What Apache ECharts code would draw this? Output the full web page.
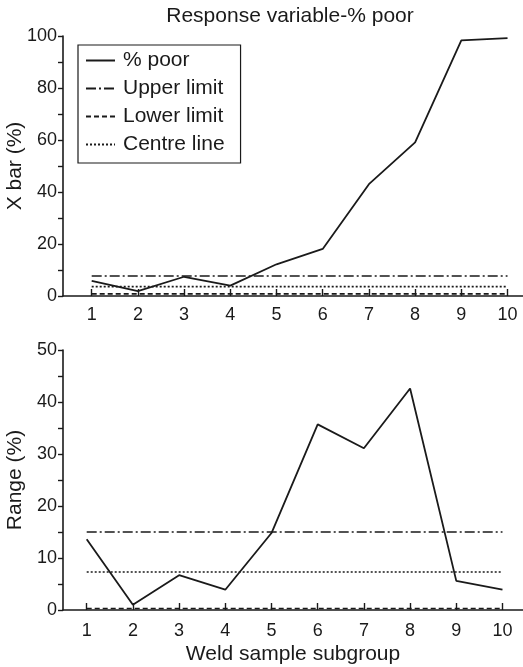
<!DOCTYPE html>
<html>
<head>
<meta charset="utf-8">
<script src="https://cdn.jsdelivr.net/npm/echarts@6/dist/echarts.min.js"></script>
<style>
html,body{margin:0;padding:0;background:#fff;}
#chart{width:523px;height:667px;}
</style>
</head>
<body>
<div id="chart"></div>
<script>
const categories = [1, 2, 3, 4, 5, 6, 7, 8, 9, 10];
const xbarValues = [5.8, 1.9, 7.4, 4.0, 12.2, 18.1, 43.0, 59.1, 98.3, 99.2];
const xbarLimits = { upper: 7.7, lower: 0.8, centre: 3.6 };
const rangeValues = [13.6, 1.0, 6.7, 3.9, 14.8, 35.7, 31.1, 42.6, 5.6, 3.9];
const rangeLimits = { upper: 15.0, lower: 0.3, centre: 7.3 };
const seriesNames = ['% poor', 'Upper limit', 'Lower limit', 'Centre line'];
const titleText = 'Response variable-% poor';
const yNameTop = 'X bar (%)';
const yNameBottom = 'Range (%)';
const xNameBottom = 'Weld sample subgroup';

const FONT = "'Liberation Sans', Arial, Helvetica, sans-serif";
const INK = '#1a1a1a';

function makeSeries(values, limits, idx) {
  const pts = categories.map((c, i) => [c, values[i]]);
  const flat = v => categories.map(c => [c, v]);
  const common = { type: 'line', xAxisIndex: idx, yAxisIndex: idx, symbol: 'none', silent: true, animation: false,
    color: INK, itemStyle: { color: INK, opacity: 0 } };
  return [
    Object.assign({}, common, { name: seriesNames[0], data: pts, z: 4,
      lineStyle: { color: INK, width: 1.8, type: 'solid' } }),
    Object.assign({}, common, { name: seriesNames[1], data: flat(limits.upper), z: 3,
      lineStyle: { color: INK, width: 1.6, type: [10, 3, 2, 3] } }),
    Object.assign({}, common, { name: seriesNames[2], data: flat(limits.lower), z: 3,
      lineStyle: { color: INK, width: 1.6, type: [5, 3] } }),
    Object.assign({}, common, { name: seriesNames[3], data: flat(limits.centre), z: 3,
      lineStyle: { color: INK, width: 1.6, type: [2, 2] } })
  ];
}

function xAxisDef(idx, min, max, margin, extra) {
  return Object.assign({
    type: 'value', gridIndex: idx, min: min, max: max,
    axisLine: { show: true, onZero: false, lineStyle: { color: INK, width: 1.6 } },
    axisTick: { show: true, inside: true, length: 7, customValues: categories, lineStyle: { color: INK, width: 1.4 } },
    axisLabel: { customValues: categories, margin: margin, color: INK, fontSize: 18, fontFamily: FONT },
    splitLine: { show: false }
  }, extra || {});
}

function yAxisDef(idx, max, interval, name, gap) {
  return {
    type: 'value', gridIndex: idx, min: 0, max: max, interval: interval,
    name: name, nameLocation: 'middle', nameGap: gap, nameRotate: 90, nameMoveOverlap: false,
    nameTextStyle: { color: INK, fontSize: 21, fontFamily: FONT },
    axisLine: { show: true, lineStyle: { color: INK, width: 1.6 } },
    axisTick: { show: true, length: 5, lineStyle: { color: INK, width: 1.4 } },
    minorTick: { show: true, splitNumber: 2, length: 5, lineStyle: { color: INK, width: 1.4 } },
    axisLabel: { margin: 6, color: INK, fontSize: 18, fontFamily: FONT },
    splitLine: { show: false }, minorSplitLine: { show: false }
  };
}

const chart = echarts.init(document.getElementById('chart'), null, { renderer: 'canvas' });
chart.setOption({
  animation: false,
  backgroundColor: '#ffffff',
  textStyle: { fontFamily: FONT },
  graphic: [{
    type: 'text', x: 290, y: 16,
    style: { text: titleText, align: 'center', verticalAlign: 'middle', font: '21px ' + FONT, fill: INK }
  }],
  legend: {
    data: seriesNames, orient: 'vertical', left: 78, top: 45,
    padding: [5, 16, 8, 7], itemGap: 7, itemWidth: 29, itemHeight: 14,
    borderColor: INK, borderWidth: 1.2, backgroundColor: '#fff',
    itemStyle: { opacity: 0 },
    textStyle: { color: INK, fontSize: 21, fontFamily: FONT, padding: [0, 0, 0, 3] },
    selectedMode: false, z: 10
  },
  grid: [
    { left: 63, right: 0, top: 36, height: 260, containLabel: false, outerBoundsMode: 'none' },
    { left: 63, right: 0, top: 350, height: 260, containLabel: false, outerBoundsMode: 'none' }
  ],
  xAxis: [
    xAxisDef(0, 0.379, 10.335, 10),
    xAxisDef(1, 0.487, 10.444, 12, {
      name: xNameBottom, nameLocation: 'middle', nameGap: 34, nameMoveOverlap: false,
      nameTextStyle: { color: INK, fontSize: 21, fontFamily: FONT }
    })
  ],
  yAxis: [
    yAxisDef(0, 100, 20, yNameTop, 37),
    yAxisDef(1, 50, 10, yNameBottom, 37)
  ],
  series: makeSeries(xbarValues, xbarLimits, 0).concat(makeSeries(rangeValues, rangeLimits, 1))
});
</script>
</body>
</html>
